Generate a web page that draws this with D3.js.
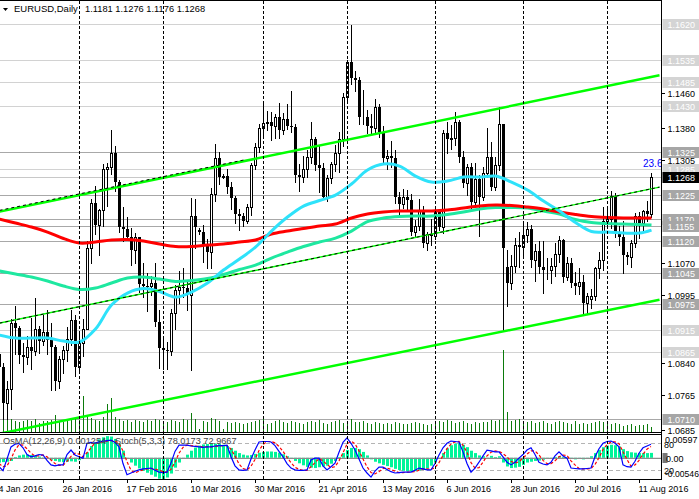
<!DOCTYPE html>
<html><head><meta charset="utf-8">
<script src="https://cdn.jsdelivr.net/npm/d3@7/dist/d3.min.js"></script>
<style>
html,body{margin:0;padding:0;background:#fff;overflow:hidden}
svg{display:block}
text{font-family:"Liberation Sans",Arial,sans-serif;font-size:9px}
</style></head><body>
<svg id="c" width="699" height="499"></svg>
<script>
// ---------------- DATA ----------------
const titleSymbol = "EURUSD,Daily";
const titleValues = "1.1181 1.1276 1.1176 1.1268";
const osmaTitle = "OsMA(12,26,9) 0.001254";
const stochTitle = "Stoch(5,3,3) 78.0173 72.9667";

const openP = [1.0860,1.0830,1.0747,1.0780,1.0932,1.0920,1.0858,1.0852,1.0875,1.0866,
1.0917,1.0890,1.0910,1.0892,1.0875,1.0797,1.0848,1.0868,1.0894,1.0938,
1.0831,1.0886,1.0918,1.1103,1.1208,1.1157,1.1192,1.1285,1.1290,1.1323,
1.1255,1.1153,1.1147,1.1129,1.1100,1.1130,1.1020,1.1017,1.1016,1.1023,
1.0933,1.0873,1.0868,1.0866,1.0955,1.1006,1.1015,1.1011,1.0995,1.1177,
1.1145,1.1141,1.1108,1.1094,1.1227,1.1311,1.1268,1.1270,1.1243,1.1218,
1.1182,1.1178,1.1166,1.1197,1.1295,1.1336,1.1380,1.1391,1.1393,1.1385,
1.1405,1.1375,1.1400,1.1385,1.1383,1.1271,1.1268,1.1285,1.1313,1.1355,
1.1294,1.1288,1.1222,1.1265,1.1296,1.1321,1.1354,1.1452,1.1532,1.1494,
1.1490,1.1404,1.1405,1.1385,1.1379,1.1428,1.1370,1.1310,1.1316,1.1311,
1.1220,1.1205,1.1222,1.1213,1.1141,1.1154,1.1192,1.1115,1.1135,1.1131,
1.1186,1.1151,1.1369,1.1355,1.1356,1.1393,1.1313,1.1252,1.1290,1.1210,
1.1263,1.1220,1.1277,1.1314,1.1245,1.1294,1.1388,1.1060,1.1023,1.1062,
1.1110,1.1105,1.1134,1.1148,1.1075,1.1096,1.1060,1.1052,1.1054,1.1062,
1.1090,1.1122,1.1036,1.1068,1.1023,1.1016,1.1026,1.0976,1.0987,1.0993,
1.1058,1.1077,1.1165,1.1170,1.1223,1.1140,1.1130,1.1087,1.1082,1.1114,
1.1177,1.1160,1.1188,1.1181];
const highP = [1.0946,1.0840,1.0797,1.0940,1.0971,1.0925,1.0884,1.0902,1.0943,1.0988,
1.0925,1.0950,1.0960,1.0932,1.0880,1.0855,1.0878,1.0922,1.0962,1.0950,
1.0907,1.0940,1.1119,1.1216,1.1247,1.1194,1.1296,1.1300,1.1376,1.1338,
1.1260,1.1197,1.1175,1.1150,1.1139,1.1130,1.1070,1.1046,1.1040,1.1070,
1.0960,1.0900,1.0887,1.0964,1.1018,1.1050,1.1058,1.1026,1.1218,1.1217,
1.1150,1.1157,1.1125,1.1242,1.1342,1.1325,1.1274,1.1285,1.1255,1.1223,
1.1194,1.1185,1.1205,1.1300,1.1345,1.1389,1.1437,1.1419,1.1417,1.1412,
1.1438,1.1414,1.1434,1.1465,1.1388,1.1296,1.1315,1.1330,1.1394,1.1360,
1.1338,1.1300,1.1272,1.1302,1.1340,1.1370,1.1460,1.1536,1.1616,1.1510,
1.1498,1.1466,1.1420,1.1412,1.1446,1.1435,1.1385,1.1330,1.1350,1.1328,
1.1233,1.1240,1.1238,1.1228,1.1168,1.1216,1.1200,1.1140,1.1170,1.1200,
1.1191,1.1374,1.1394,1.1387,1.1416,1.1397,1.1326,1.1296,1.1298,1.1298,
1.1272,1.1290,1.1380,1.1347,1.1312,1.1428,1.1388,1.1100,1.1088,1.1127,
1.1140,1.1162,1.1163,1.1157,1.1112,1.1120,1.1120,1.1080,1.1080,1.1115,
1.1131,1.1125,1.1082,1.1080,1.1048,1.1058,1.1042,1.1000,1.1010,1.1061,
1.1095,1.1198,1.1200,1.1234,1.1230,1.1155,1.1165,1.1095,1.1122,1.1185,
1.1186,1.1192,1.1212,1.1276];
const lowP = [1.0803,1.0711,1.0710,1.0733,1.0860,1.0838,1.0818,1.0836,1.0825,1.0857,
1.0863,1.0880,1.0860,1.0778,1.0777,1.0781,1.0815,1.0844,1.0880,1.0810,
1.0824,1.0855,1.0917,1.1068,1.1135,1.1087,1.1155,1.1200,1.1273,1.1234,
1.1140,1.1120,1.1122,1.1065,1.1068,1.1003,1.0990,1.0959,1.0996,1.0925,
1.0827,1.0825,1.0826,1.0858,1.0918,1.0977,1.0990,1.0960,1.0822,1.1104,
1.1136,1.1071,1.1057,1.1058,1.1212,1.1250,1.1265,1.1229,1.1194,1.1161,
1.1145,1.1155,1.1160,1.1180,1.1285,1.1325,1.1363,1.1375,1.1352,1.1356,
1.1357,1.1366,1.1378,1.1370,1.1255,1.1235,1.1255,1.1266,1.1300,1.1283,
1.1233,1.1216,1.1212,1.1252,1.1281,1.1278,1.1338,1.1440,1.1481,1.1465,
1.1389,1.1388,1.1367,1.1366,1.1365,1.1360,1.1300,1.1285,1.1290,1.1207,
1.1180,1.1195,1.1190,1.1133,1.1131,1.1144,1.1106,1.1098,1.1110,1.1125,
1.1145,1.1138,1.1322,1.1332,1.1341,1.1301,1.1244,1.1226,1.1196,1.1198,
1.1131,1.1214,1.1268,1.1237,1.1238,1.1283,1.0912,1.0970,1.1010,1.1048,
1.1060,1.1080,1.1117,1.1060,1.1028,1.1047,1.0999,1.1033,1.1023,1.1040,
1.1071,1.1026,1.1029,1.1015,1.0998,1.0998,1.0952,1.0953,1.0965,1.0985,
1.1035,1.1052,1.1150,1.1150,1.1130,1.1110,1.1046,1.1066,1.1060,1.1105,
1.1126,1.1140,1.1165,1.1176];
const closeP = [1.0830,1.0747,1.0780,1.0932,1.0920,1.0858,1.0852,1.0875,1.0866,1.0917,
1.0890,1.0910,1.0892,1.0875,1.0797,1.0848,1.0868,1.0894,1.0938,1.0831,
1.0886,1.0918,1.1103,1.1208,1.1157,1.1192,1.1285,1.1290,1.1323,1.1255,
1.1153,1.1147,1.1129,1.1100,1.1130,1.1020,1.1017,1.1016,1.1023,1.0933,
1.0873,1.0868,1.0866,1.0955,1.1006,1.1015,1.1011,1.0995,1.1177,1.1153,
1.1141,1.1108,1.1094,1.1227,1.1311,1.1268,1.1270,1.1243,1.1218,1.1182,
1.1178,1.1166,1.1197,1.1295,1.1336,1.1380,1.1391,1.1393,1.1385,1.1405,
1.1375,1.1400,1.1385,1.1383,1.1271,1.1268,1.1285,1.1313,1.1355,1.1294,
1.1288,1.1222,1.1265,1.1296,1.1321,1.1354,1.1452,1.1532,1.1494,1.1490,
1.1404,1.1405,1.1385,1.1379,1.1428,1.1370,1.1310,1.1316,1.1311,1.1220,
1.1205,1.1222,1.1213,1.1141,1.1154,1.1192,1.1115,1.1135,1.1131,1.1186,
1.1151,1.1369,1.1355,1.1356,1.1393,1.1313,1.1252,1.1290,1.1210,1.1263,
1.1220,1.1277,1.1314,1.1245,1.1294,1.1388,1.1103,1.1023,1.1062,1.1110,
1.1105,1.1134,1.1148,1.1075,1.1096,1.1060,1.1052,1.1054,1.1062,1.1090,
1.1122,1.1036,1.1068,1.1023,1.1016,1.1026,1.0976,1.0993,1.0993,1.1058,
1.1077,1.1165,1.1170,1.1223,1.1140,1.1130,1.1087,1.1082,1.1114,1.1177,
1.1160,1.1188,1.1181,1.1268];

const volume = [110,130,120,130,110,100,110,120,110,130,90,110,110,120,170,110,100,110,120,130,
120,360,150,140,120,110,150,280,340,150,130,110,120,100,120,110,100,120,110,130,
120,110,100,120,110,100,130,120,190,130,30,110,100,140,130,110,30,100,90,100,
90,80,90,100,110,120,130,80,90,110,120,100,90,110,100,90,80,100,110,100,
120,90,80,100,110,120,90,110,130,100,100,110,90,80,100,90,80,90,80,100,
90,80,80,90,100,90,80,70,80,90,110,100,120,110,90,100,110,90,80,100,
90,100,100,120,110,120,820,200,110,120,130,80,100,110,90,100,110,90,80,100,
110,100,90,80,110,80,90,80,90,100,110,100,90,80,90,80,60,70,80,60,70,70,80,50];

const osma = [-0.0012,-0.0011,-0.0010,-0.0008,0.0002,0.0006,0.0008,0.0008,0.0007,0.0005,
0.0003,0.0001,-0.0002,-0.0005,-0.0008,-0.0010,-0.0011,-0.0010,-0.0009,-0.0010,
-0.0006,-0.0002,0.0014,0.0030,0.0040,0.0047,0.0052,0.0055,0.0054,0.0048,
0.0035,0.0018,-0.0003,-0.0012,-0.0020,-0.0027,-0.0033,-0.0038,-0.0043,-0.0048,
-0.0053,-0.0055,-0.0050,-0.0040,-0.0025,-0.0012,-0.0002,0.0008,0.0018,0.0026,
0.0031,0.0034,0.0035,0.0036,0.0036,0.0035,0.0033,0.0030,0.0025,0.0018,
0.0012,0.0008,0.0006,0.0007,0.0010,0.0013,0.0015,0.0016,0.0016,0.0015,
0.0013,0.0009,0.0004,-0.0002,-0.0008,-0.0014,-0.0019,-0.0023,-0.0025,-0.0026,
-0.0024,-0.0022,-0.0020,-0.0015,-0.0008,0.0002,0.0012,0.0020,0.0025,0.0025,
0.0022,0.0015,0.0006,-0.0004,-0.0010,-0.0014,-0.0018,-0.0021,-0.0024,-0.0028,
-0.0031,-0.0033,-0.0034,-0.0035,-0.0034,-0.0032,-0.0030,-0.0027,-0.0020,-0.0012,
-0.0002,0.0012,0.0024,0.0032,0.0036,0.0037,0.0033,0.0027,0.0018,0.0012,
0.0006,0.0004,-0.0003,0.0005,0.0002,0.0004,-0.0012,-0.0022,-0.0026,-0.0025,
-0.0023,-0.0018,-0.0012,-0.0010,-0.0008,-0.0007,-0.0005,-0.0003,-0.0002,0.0002,
0.0004,0.0002,0.0001,-0.0002,-0.0004,-0.0003,-0.0004,-0.0002,0.0004,0.0012,
0.0020,0.0027,0.0031,0.0033,0.0032,0.0029,0.0022,0.0017,0.0014,0.0013,
0.0012,0.0012,0.0012,0.00125];

const stochMain = [28,19,45,72,78,80,70,55,50,52,55,54,42,32,30,32,32,55,65,54,
50,47,80,82,80,83,85,86,87,82,72,35,10,14,18,21,23,24,25,20,
16,15,16,36,62,76,76,76,74,73,72,71,72,72,74,75,75,76,50,30,
21,20,21,45,65,83,84,84,83,75,62,50,35,25,21,20,20,21,43,47,
47,30,21,28,36,60,82,92,80,65,45,25,14,5,18,27,27,22,17,14,
15,16,16,16,20,25,23,21,21,35,54,70,80,85,84,83,61,35,16,25,
38,52,65,63,61,61,50,38,32,38,47,55,65,70,55,38,34,32,38,52,
61,52,47,25,24,23,23,24,25,50,68,80,84,85,80,72,32,28,27,40,
58,70,74,78];
const stochSignal = [35,28,30,45,65,77,76,68,58,52,52,54,50,43,35,31,31,40,51,58,
56,50,59,70,81,82,83,85,86,85,80,63,39,20,14,18,21,23,24,23,
20,17,16,22,38,58,71,76,75,74,73,72,72,72,73,74,75,75,67,52,
34,24,21,29,44,64,77,84,84,81,73,62,49,37,27,22,20,20,28,37,
46,41,33,26,28,41,59,78,85,79,63,45,28,15,12,17,24,25,22,18,
15,15,16,16,17,20,23,23,22,26,37,53,68,78,83,84,76,60,37,25,
26,38,52,60,63,62,57,50,40,36,39,47,56,63,63,54,42,35,35,41,
50,54,53,41,32,24,23,23,24,33,48,66,77,83,83,79,61,44,29,32,
42,56,67,73];

// moving averages, read every 4 bars
const maIdx = [0,4,8,12,16,20,24,28,32,36,40,44,48,52,56,60,64,68,72,76,80,84,88,92,96,100,104,108,112,116,120,124,128,132,136,140,144,148,152,156,160,163];
const maRed = [1.11702,1.11610,1.11518,1.11403,1.11254,1.11150,1.11173,1.11219,1.11231,1.11196,1.11127,1.11070,1.11070,1.11104,1.11127,1.11173,1.11219,1.11357,1.11426,1.11484,1.11541,1.11587,1.11725,1.11817,1.11863,1.11886,1.11886,1.11886,1.11909,1.11955,1.12001,1.12024,1.12013,1.11978,1.11932,1.11863,1.11806,1.11760,1.11737,1.11725,1.11725,1.11725];
const maGreen = [1.10506,1.10437,1.10368,1.10276,1.10161,1.10081,1.10115,1.10230,1.10345,1.10368,1.10322,1.10265,1.10288,1.10334,1.10426,1.10541,1.10644,1.10805,1.10943,1.11070,1.11173,1.11265,1.11426,1.11645,1.11725,1.11760,1.11771,1.11771,1.11806,1.11863,1.11932,1.11967,1.11967,1.11955,1.11886,1.11817,1.11691,1.11622,1.11599,1.11587,1.11576,1.11564];
const maCyan = [1.09034,1.08965,1.08965,1.08965,1.08896,1.08873,1.09172,1.09724,1.10000,1.10104,1.10035,1.09908,1.10023,1.10230,1.10529,1.10782,1.11058,1.11426,1.11748,1.12001,1.12128,1.12254,1.12507,1.12829,1.12967,1.12921,1.12691,1.12553,1.12576,1.12668,1.12668,1.12691,1.12553,1.12369,1.12116,1.11886,1.11622,1.11415,1.11403,1.11380,1.11380,1.11449];

// channel (bar index anchors and prices)
const channelIdx = [0,165];
const chUpper = [1.11873,1.15009];
const chMiddle = [1.09308,1.12436];
const chLower = [1.06766,1.09848];
const trendIdx = [0,61];
const trendVal = [1.11902,1.13059];
const fiboLabel = "23.6";

// horizontal levels
const levels = [1.1620,1.1535,1.1485,1.1430,1.1325,1.1285,1.1225,1.1170,1.1155,1.1120,1.1045,1.0975,1.0915,1.0865,1.0710];
const levelTone = ["l","l","l","l","d","l","d","d","d","d","d","d","l","l","d"];
const lastPrice = 1.1268;
const priceTicks = [1.1460,1.1380,1.1305,1.1070,1.0995,1.0840,1.0765,1.0685];

const monthStarts = [20,41,66,87,109,131,152];
const dateIdx = [0,16,32,48,64,80,96,112,128,144,160];
const dateLabels = ["4 Jan 2016","26 Jan 2016","17 Feb 2016","10 Mar 2016","30 Mar 2016","21 Apr 2016","13 May 2016","6 Jun 2016","28 Jun 2016","20 Jul 2016","11 Aug 2016"];

// ---------------- DRAW ----------------
const svg = d3.select("#c");
const R = 661;             // right edge of plot
const mainBottom = 432;
const indTop = 434.3, indBottom = 479.3;

const x = d3.scaleLinear().domain([0,163]).range([-0.5,651.5]);
const y = d3.scaleLinear().domain([1.0685,1.1620]).range([430,23.5]);
const yVol = d3.scaleLinear().domain([0,1000]).range([432,332]);
const yS = d3.scaleLinear().domain([0,100]).range([indBottom,indTop]);
const yO = d3.scaleLinear().domain([-0.00546,0.00597]).range([indBottom,indTop]);
const snap = v => Math.round(v) + 0.5;

const defs = svg.append("defs");
defs.append("clipPath").attr("id","cm").append("rect").attr("x",0).attr("y",1).attr("width",R).attr("height",mainBottom-1);
defs.append("clipPath").attr("id","ci").append("rect").attr("x",0).attr("y",435).attr("width",R).attr("height",44);

const gm = svg.append("g").attr("clip-path","url(#cm)");
const gi = svg.append("g").attr("clip-path","url(#ci)");

// level lines
levels.forEach((v,k)=>{
  gm.append("line").attr("x1",0).attr("x2",R).attr("y1",snap(y(v))).attr("y2",snap(y(v)))
    .attr("stroke", levelTone[k]==="l" ? "#d2d2d2" : "#a8a8a8").attr("stroke-width",1);
});
gm.append("line").attr("x1",0).attr("x2",R).attr("y1",snap(y(lastPrice))).attr("y2",snap(y(lastPrice)))
  .attr("stroke","#c8c8c8");

// month separators
monthStarts.forEach(i=>{
  svg.append("line").attr("x1",snap(x(i)-0.5)).attr("x2",snap(x(i)-0.5)).attr("y1",1).attr("y2",479)
    .attr("stroke","#000").attr("stroke-width",1).attr("stroke-dasharray","3,2");
});

// volumes
gm.selectAll("line.vol").data(volume).join("line").attr("class","vol")
  .attr("x1",(d,i)=>snap(x(i)-0.5)).attr("x2",(d,i)=>snap(x(i)-0.5))
  .attr("y1",yVol(0)).attr("y2",d=>Math.round(yVol(d)))
  .attr("stroke","#0b7a0b").attr("stroke-width",1);

// candles
const idx = d3.range(openP.length);
const cg = gm.append("g");
idx.forEach(i=>{
  const cx = snap(x(i)-0.5);
  const o=openP[i], c=closeP[i];
  cg.append("line").attr("x1",cx).attr("x2",cx).attr("y1",Math.round(y(highP[i]))).attr("y2",Math.round(y(lowP[i]))+1)
    .attr("stroke","#000").attr("stroke-width",1);
  const top = Math.round(y(Math.max(o,c))), bot = Math.round(y(Math.min(o,c)));
  if (c >= o) {
    cg.append("rect").attr("x",cx-1).attr("y",top+0.5).attr("width",2).attr("height",Math.max(bot-top,0))
      .attr("fill","#fff").attr("stroke","#000").attr("stroke-width",1);
  } else {
    cg.append("rect").attr("x",cx-1.5).attr("y",top).attr("width",3).attr("height",Math.max(bot-top,1))
      .attr("fill","#000");
  }
});

// moving averages
const maLine = d3.line().x(d=>x(d[0])).y(d=>y(d[1])).curve(d3.curveCatmullRom);
gm.append("path").attr("d",maLine(maIdx.map((d,k)=>[d,maGreen[k]]))).attr("fill","none").attr("stroke","#1ee8a0").attr("stroke-width",3);
gm.append("path").attr("d",maLine(maIdx.map((d,k)=>[d,maRed[k]]))).attr("fill","none").attr("stroke","#ff0000").attr("stroke-width",3);
gm.append("path").attr("d",maLine(maIdx.map((d,k)=>[d,maCyan[k]]))).attr("fill","none").attr("stroke","#2ee2fa").attr("stroke-width",3);

// channel
const lin = d3.line().x(d=>x(d[0])).y(d=>y(d[1]));
const chPts = arr => channelIdx.map((d,k)=>[d,arr[k]]);
gm.append("path").attr("d",lin(chPts(chUpper))).attr("stroke","#00ff00").attr("stroke-width",2.5).attr("fill","none");
gm.append("path").attr("d",lin(chPts(chLower))).attr("stroke","#00ff00").attr("stroke-width",2.5).attr("fill","none");
gm.append("path").attr("d",lin(chPts(chMiddle))).attr("stroke","#00ff00").attr("stroke-width",1.4).attr("fill","none");
gm.append("path").attr("d",lin(chPts(chMiddle))).attr("stroke","#000").attr("stroke-width",1).attr("stroke-dasharray","3,3").attr("fill","none");
gm.append("path").attr("d",lin(trendIdx.map((d,k)=>[d,trendVal[k]]))).attr("stroke","#000").attr("stroke-width",1).attr("stroke-dasharray","3,3").attr("fill","none");
gm.append("text").attr("x",643).attr("y",167).attr("fill","#0000ff").style("font-size","10px").text(fiboLabel);

// ---- indicator window ----
gi.append("line").attr("x1",0).attr("x2",R).attr("y1",snap(yS(80))).attr("y2",snap(yS(80))).attr("stroke","#b4b4b4").attr("stroke-dasharray","4,3");
gi.append("line").attr("x1",0).attr("x2",R).attr("y1",snap(yS(20))).attr("y2",snap(yS(20))).attr("stroke","#b4b4b4").attr("stroke-dasharray","4,3");
gi.selectAll("rect.h").data(osma).join("rect").attr("class","h")
  .attr("x",(d,i)=>Math.round(x(i)-0.5)-1).attr("width",3)
  .attr("y",d=>Math.min(yO(d),yO(0))).attr("height",d=>Math.abs(yO(d)-yO(0)))
  .attr("fill","#00f59a");
gi.append("line").attr("x1",0).attr("x2",R).attr("y1",yO(0)+0.5).attr("y2",yO(0)+0.5).attr("stroke","#8c8c8c").attr("stroke-width",1.3);
const sl = d3.line().x((d,i)=>x(i)-0.5).y(d=>yS(d));
gi.append("path").attr("d",sl(stochSignal)).attr("fill","none").attr("stroke","#ff0000").attr("stroke-width",1.2).attr("stroke-dasharray","3,2");
gi.append("path").attr("d",sl(stochMain)).attr("fill","none").attr("stroke","#0000ff").attr("stroke-width",1.2);
svg.append("text").attr("x",3).attr("y",444).attr("fill","#444").style("font-size","9.2px").text(osmaTitle);
svg.append("text").attr("x",115).attr("y",444).attr("fill","#444").style("font-size","9.2px").text(stochTitle);

// frames
svg.append("line").attr("x1",0).attr("x2",R+0.5).attr("y1",0.5).attr("y2",0.5).attr("stroke","#000");
svg.append("line").attr("x1",0).attr("x2",R+0.5).attr("y1",432.5).attr("y2",432.5).attr("stroke","#000");
svg.append("line").attr("x1",0).attr("x2",R+0.5).attr("y1",434.5).attr("y2",434.5).attr("stroke","#000");
svg.append("line").attr("x1",0).attr("x2",R+0.5).attr("y1",479.5).attr("y2",479.5).attr("stroke","#000");
svg.append("line").attr("x1",R+0.5).attr("x2",R+0.5).attr("y1",0).attr("y2",480).attr("stroke","#000");

// price ticks
priceTicks.forEach(v=>{
  const yy = snap(y(v));
  svg.append("line").attr("x1",R).attr("x2",R+4).attr("y1",yy).attr("y2",yy).attr("stroke","#000");
  svg.append("text").attr("x",667.5).attr("y",yy+3.2).attr("fill","#000").text(v.toFixed(4));
});
// level boxes
levels.forEach((v,k)=>{
  const yy = y(v);
  svg.append("rect").attr("x",662.5).attr("y",Math.round(yy)-5).attr("width",40).attr("height",11)
    .attr("fill", levelTone[k]==="l" ? "#d4d4d4" : "#a6a6a6");
  svg.append("text").attr("x",667.5).attr("y",Math.round(yy)+3.7).attr("fill","#fff").text(v.toFixed(4));
});
svg.append("rect").attr("x",662.5).attr("y",Math.round(y(lastPrice))-5).attr("width",40).attr("height",11).attr("fill","#000");
svg.append("text").attr("x",667.5).attr("y",Math.round(y(lastPrice))+3.7).attr("fill","#fff").text(lastPrice.toFixed(4));

// indicator scale labels
svg.append("text").attr("x",665).attr("y",442.5).attr("fill","#000").text("0.00597");
svg.append("text").attr("x",664).attr("y",447.5).attr("fill","#000").text("80");
svg.append("rect").attr("x",662.5).attr("y",453).attr("width",5).attr("height",10).attr("fill","#777");
svg.append("text").attr("x",666).attr("y",461.5).attr("fill","#000").text("0.00");
svg.append("text").attr("x",664).attr("y",473.5).attr("fill","#000").text("20");
svg.append("text").attr("x",665).attr("y",476.5).attr("fill","#000").style("font-size","8.6px").text("-0.00546");

// date labels
dateIdx.forEach((i,k)=>{
  const xx = x(i)-1;
  svg.append("line").attr("x1",snap(x(i)-0.5)).attr("x2",snap(x(i)-0.5)).attr("y1",480).attr("y2",483).attr("stroke","#000");
  svg.append("text").attr("x",xx).attr("y",492).attr("fill","#000").text(dateLabels[k]);
});

// title
svg.append("path").attr("d","M3,8 L8,8 L5.5,11 Z").attr("fill","#000");
svg.append("text").attr("x",14).attr("y",11.5).attr("fill","#000").style("font-size","9.5px").text(titleSymbol);
svg.append("text").attr("x",85).attr("y",11.5).attr("fill","#000").style("font-size","9.3px").text(titleValues);
</script>
</body></html>
